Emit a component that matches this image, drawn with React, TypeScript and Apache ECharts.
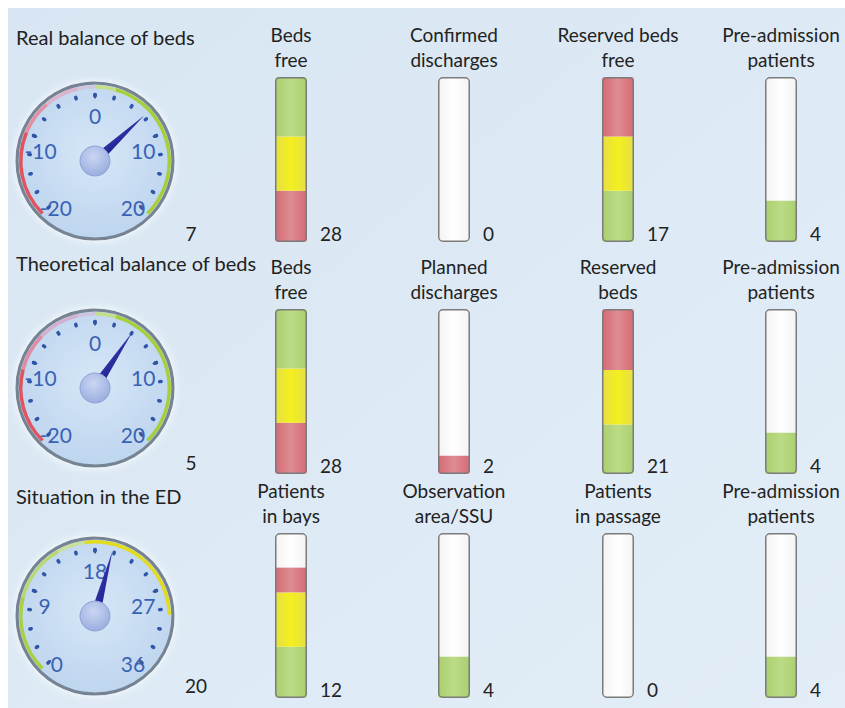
import React, { useEffect, useRef } from 'react';
import * as echarts from 'echarts';

// ---------------- data ----------------
const gaugeTitles = ['Real balance of beds', 'Theoretical balance of beds', 'Situation in the ED'];
const gaugeValues = [7, 5, 20];
const gaugeMin = [-20, -20, 0];
const gaugeMax = [20, 20, 36];

const tankNames = [
  'Beds\nfree', 'Confirmed\ndischarges', 'Reserved beds\nfree', 'Pre-admission\npatients',
  'Beds\nfree', 'Planned\ndischarges', 'Reserved\nbeds', 'Pre-admission\npatients',
  'Patients\nin bays', 'Observation\narea/SSU', 'Patients\nin passage', 'Pre-admission\npatients',
];
const tankValues = [28, 0, 17, 4, 28, 2, 21, 4, 12, 4, 0, 4];
// fill (percent of tank height) of bottom / middle / top zone
const zoneLow = [31, 0, 31, 25, 31, 11, 30, 25, 31, 25, 0, 25];
const zoneMid = [33, 0, 33, 0, 33, 0, 33, 0, 33, 0, 0, 0];
const zoneHigh = [36, 0, 36, 0, 36, 0, 37, 0, 15, 0, 0, 0];
// 'redLow': red / yellow / green from bottom; 'greenLow': green / yellow / red
const tankScheme = [
  'redLow', 'redLow', 'greenLow', 'greenLow',
  'redLow', 'redLow', 'greenLow', 'greenLow',
  'greenLow', 'greenLow', 'greenLow', 'greenLow',
];

// ---------------- layout / style ----------------
const FONT = 'Lato, "Noto Sans", sans-serif';
const gaugeCenters = [[95, 161], [95, 388], [95, 616]];
const titleTops = [27, 253, 486];
const detailOffsets = [[96, 72], [96, 74], [101, 69]];
const colCenters = [291, 454, 618, 781];
const rowTops = [77, 309, 533];
const TANK_W = 32;
const TANK_H = 165;

const labelPads = [
  [[0, 0, 19, 1], [40, 0, 0, 3], [23, 0, 0, 0], [40, 13, 0, 0], [0, 6, 19, 0]],
  [[0, 0, 19, 1], [40, 0, 0, 3], [23, 0, 0, 0], [40, 13, 0, 0], [0, 6, 19, 0]],
  [[0, 0, 17, 12], [40, 0, 0, 17], [23, 0, 0, 0], [40, 13, 0, 0], [0, 6, 17, 0]],
];

const arcColors = [
  [[0.25, '#e0535f'], [0.35, '#e48ea0'], [0.45, '#dcb4cc'], [0.5, '#d2c6de'], [0.56, '#c4de8a'], [1, '#a6cf3c']],
  [[0.22, '#e0535f'], [0.33, '#de8ca4'], [0.45, '#d4b0cf'], [0.5, '#ccc4de'], [0.56, '#c4de8a'], [1, '#a6cf3c']],
  [[0.22, '#a8d042'], [0.39, '#b9d872'], [0.47, '#c9e09c'], [0.83, '#e3db1e'], [1, 'rgba(0,0,0,0)']],
];

const hGrad = (a: string, b: string) =>
  new echarts.graphic.LinearGradient(0, 0, 1, 0, [
    { offset: 0, color: a },
    { offset: 0.5, color: b },
    { offset: 1, color: a },
  ]);

export default function App() {
  const ref = useRef<HTMLDivElement>(null);

  useEffect(() => {
    if (!ref.current) return;
    const chart = echarts.init(ref.current, undefined, { renderer: 'svg' });

    const zoneFill: Record<string, any> = {
      red: hGrad('#d46a74', '#df8c93'),
      yellow: hGrad('#e6df45', '#f4ef1e'),
      green: hGrad('#a9cf6e', '#bcdb86'),
    };

    const grids: any[] = [];
    const xAxes: any[] = [];
    const yAxes: any[] = [];
    const series: any[] = [];

    tankNames.forEach((name, i) => {
      const r = Math.floor(i / 4);
      const c = i % 4;
      grids.push({ left: colCenters[c] - TANK_W / 2, top: rowTops[r], width: TANK_W, height: TANK_H });
      xAxes.push({
        gridIndex: i,
        type: 'category',
        data: [name],
        position: 'top',
        axisLine: { show: false },
        axisTick: { show: false },
        axisLabel: { interval: 0, margin: 5, color: '#222', fontSize: 19, lineHeight: 25, fontFamily: FONT },
      });
      yAxes.push({ gridIndex: i, type: 'value', min: 0, max: 100, show: false });
      const base = {
        type: 'bar', xAxisIndex: i, yAxisIndex: i, barWidth: TANK_W, barGap: '-100%', silent: true,
      };
      series.push({
        ...base,
        data: [100],
        itemStyle: {
          color: new echarts.graphic.LinearGradient(0, 0, 1, 0, [
            { offset: 0, color: '#f3f3f3' }, { offset: 0.5, color: '#ffffff' }, { offset: 1, color: '#f3f3f3' },
          ]),
          borderRadius: 4,
        },
        z: 2,
      });
      const zones = [zoneLow[i], zoneMid[i], zoneHigh[i]];
      const cols = tankScheme[i] === 'redLow' ? ['red', 'yellow', 'green'] : ['green', 'yellow', 'red'];
      let cum = 0;
      zones.forEach((v, k) => {
        const topR = cum + v >= 99.5 ? 3 : 0;
        const botR = cum === 0 ? 3 : 0;
        series.push({
          ...base,
          stack: 'tank' + i,
          data: [{ value: v, itemStyle: { borderRadius: [topR, topR, botR, botR] } }],
          itemStyle: { color: zoneFill[cols[k]] },
          z: 3,
        });
        cum += v;
      });
      series.push({
        ...base,
        data: [100],
        itemStyle: { color: 'rgba(0,0,0,0)', borderColor: '#7b7b7b', borderWidth: 1.5, borderRadius: 4 },
        z: 4,
        label: {
          show: true,
          position: ['100%', '100%'],
          align: 'left',
          verticalAlign: 'bottom',
          offset: [13, 1],
          formatter: () => String(tankValues[i]),
          color: '#222',
          fontSize: 19,
          fontFamily: FONT,
        },
      });
    });

    gaugeValues.forEach((val, g) => {
      const mn = gaugeMin[g];
      const mx = gaugeMax[g];
      const step = (mx - mn) / 4;
      const rich: Record<string, any> = {};
      labelPads[g].forEach((p, k) => {
        rich['l' + k] = { padding: p, fontSize: 21, fontFamily: FONT, color: '#3a62b4' };
      });
      series.push({
        type: 'gauge',
        center: gaugeCenters[g],
        radius: 76,
        startAngle: 225,
        endAngle: -45,
        min: mn,
        max: mx,
        splitNumber: 4,
        z: 5,
        axisLine: { lineStyle: { width: 3.5, color: arcColors[g] } },
        splitLine: { distance: 5, length: 5, lineStyle: { color: '#4a5a7e', width: 1.6 } },
        axisTick: {
          splitNumber: 4, distance: 6, length: 1.5,
          lineStyle: { color: '#2f55a8', width: 3.5, cap: 'round' },
        },
        axisLabel: {
          distance: -13.5,
          color: '#3a62b4',
          fontSize: 21,
          fontFamily: FONT,
          formatter: (v: number) => `{l${Math.round((v - mn) / step)}|${v}}`,
          rich,
        },
        pointer: {
          length: 67,
          width: 5,
          itemStyle: {
            color: new echarts.graphic.LinearGradient(0, 0, 1, 1, [
              { offset: 0, color: '#3a3ab4' }, { offset: 1, color: '#1c1c86' },
            ]),
          },
        },
        anchor: {
          show: true,
          showAbove: true,
          size: 30,
          itemStyle: {
            color: new echarts.graphic.RadialGradient(0.45, 0.35, 0.7, [
              { offset: 0, color: '#cbd6f3' }, { offset: 1, color: '#96abdd' },
            ]),
            borderColor: '#8ea2d4',
            borderWidth: 1,
          },
        },
        title: { show: false },
        detail: {
          offsetCenter: detailOffsets[g],
          fontSize: 19,
          fontWeight: 'normal',
          fontFamily: FONT,
          color: '#222',
          formatter: '{value}',
        },
        data: [{ value: val }],
      });
    });

    const graphics: any[] = [
      {
        type: 'rect',
        z: 0,
        silent: true,
        shape: { x: 8, y: 8, width: 837, height: 700 },
        style: {
          fill: new echarts.graphic.LinearGradient(0, 0, 1, 1, [
            { offset: 0, color: '#d8e6f3' }, { offset: 1, color: '#e2edf7' },
          ]),
        },
      },
    ];
    gaugeCenters.forEach(([cx, cy]) => {
      graphics.push({
        type: 'circle',
        z: 1,
        silent: true,
        shape: { cx, cy, r: 78 },
        style: {
          fill: new echarts.graphic.RadialGradient(0.5, 0.45, 0.6, [
            { offset: 0, color: '#d6e6f7' }, { offset: 1, color: '#bcd4ee' },
          ]),
          stroke: '#768393',
          lineWidth: 3.2,
          shadowBlur: 8,
          shadowColor: 'rgba(255,255,255,0.95)',
        },
      });
    });

    chart.setOption({
      animation: false,
      backgroundColor: '#ffffff',
      title: gaugeTitles.map((t, g) => ({
        text: t,
        left: 16,
        top: titleTops[g],
        padding: 0,
        textStyle: { fontSize: 20, fontWeight: 'normal', color: '#222', fontFamily: FONT },
      })),
      graphic: graphics,
      grid: grids,
      xAxis: xAxes,
      yAxis: yAxes,
      series,
    });

    return () => chart.dispose();
  }, []);

  return (
    <div
      ref={ref}
      style={{ position: 'fixed', left: 0, top: 0, width: 845, height: 708 }}
    />
  );
}
